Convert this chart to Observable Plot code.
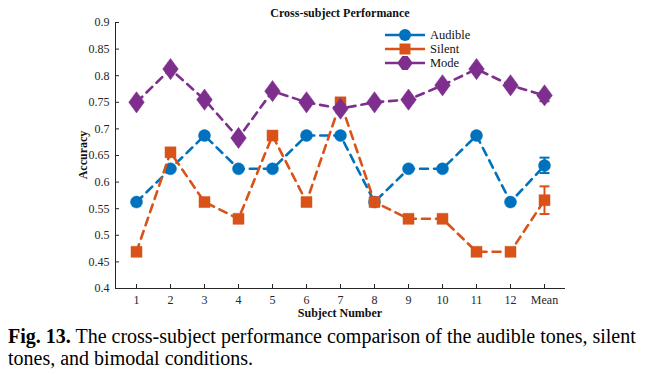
<!DOCTYPE html>
<html><head><meta charset="utf-8">
<script src="https://cdn.jsdelivr.net/npm/d3@7"></script>
<script src="https://cdn.jsdelivr.net/npm/@observablehq/plot@0.6"></script>
<style>
body{margin:0;background:#fff;font-family:"Liberation Serif","Times New Roman",serif;}
svg, svg text{font-family:"Liberation Serif","Times New Roman",serif !important;}
#wrap{position:relative;width:654px;height:375px;overflow:hidden;}
#chart{position:absolute;left:0;top:0;}
.t{position:absolute;white-space:nowrap;color:#111;font-family:"Liberation Serif","Times New Roman",serif;}
#title{left:340px;top:6px;transform:translateX(-50%);font-weight:bold;font-size:12px;}
#xlab{left:340px;top:306px;transform:translateX(-50%);font-weight:bold;font-size:12px;}
#ylab{left:83px;top:155px;transform:translate(-50%,-50%) rotate(-90deg);font-weight:bold;font-size:12px;}
#caption{left:8px;top:325px;font-size:20px;line-height:22px;color:#000;}
#legend{position:absolute;left:384px;top:28px;font-size:12.5px;font-family:"Liberation Serif","Times New Roman",serif;color:#111;}
#legend .row{display:flex;align-items:center;height:14px;}
#legend svg{margin-right:4px;}
</style></head>
<body><div id="wrap">
<div id="chart"></div>
<div id="title" class="t">Cross-subject Performance</div>
<div id="xlab" class="t">Subject Number</div>
<div id="ylab" class="t">Accuracy</div>
<div id="legend"></div>
<div id="caption" class="t"><b>Fig. 13.</b> The cross-subject performance comparison of the audible tones, silent<br>tones, and bimodal conditions.</div>
</div>
<script>
const subjects = ["1","2","3","4","5","6","7","8","9","10","11","12","Mean"];
const audible = [0.5625,0.625,0.6875,0.625,0.625,0.6875,0.6875,0.5625,0.625,0.625,0.6875,0.5625,0.631];
const silent  = [0.469,0.656,0.5625,0.531,0.6875,0.5625,0.75,0.5625,0.531,0.531,0.469,0.469,0.566];
const mode    = [0.75,0.8125,0.755,0.683,0.771,0.75,0.738,0.75,0.755,0.782,0.8125,0.782,0.763];
const meanErr = {Audible:[0.617,0.646], Silent:[0.540,0.592], Mode:[0.752,0.769]};
const seriesNames = ["Audible","Silent","Mode"];
const colors = ["#0072BD","#D95319","#7E2F8E"];
const yTicks = [0.4,0.45,0.5,0.55,0.6,0.65,0.7,0.75,0.8,0.85,0.9];

const sq = {draw(ctx,size){const h=Math.sqrt(size)/2;ctx.moveTo(-h,-h);ctx.lineTo(h,-h);ctx.lineTo(h,h);ctx.lineTo(-h,h);ctx.closePath();}};
const dia = {draw(ctx,size){const w=Math.sqrt(size)*0.55,h=Math.sqrt(size)*0.75;ctx.moveTo(0,-h);ctx.lineTo(w,0);ctx.lineTo(0,h);ctx.lineTo(-w,0);ctx.closePath();}};
const cap = {draw(ctx,size){const w=Math.sqrt(size)/2;ctx.moveTo(-w,0);ctx.lineTo(w,0);}};
const symbols = ["circle", sq, dia];
const radii = [6, 6.2, 8];

const vals = [audible, silent, mode];
const marks = [
  Plot.ruleY([0.4], {stroke:"#262626", strokeWidth:1}),
  Plot.frame({anchor:"left", stroke:"#262626"}),
  Plot.axisY({ticks:yTicks, tickSize:-4, tickPadding:10, tickFormat:d3.format("~g"), label:null, fontSize:12, color:"#262626"}),
  Plot.axisX({tickSize:-4, tickPadding:11, label:null, fontSize:12, color:"#262626"})
];
seriesNames.forEach((name,i)=>{
  const data = subjects.map((s,j)=>({s, v: vals[i][j]}));
  const col = colors[i];
  const e = meanErr[name];
  marks.push(Plot.line(data,{x:"s",y:"v",stroke:col,strokeWidth:2.6,strokeDasharray:"8,6"}));
  marks.push(Plot.ruleX([{s:"Mean",lo:e[0],hi:e[1]}],{x:"s",y1:"lo",y2:"hi",stroke:col,strokeWidth:2}));
  marks.push(Plot.dot([{s:"Mean",v:e[0]},{s:"Mean",v:e[1]}],{x:"s",y:"v",symbol:cap,r:5.6,stroke:col,strokeWidth:2,fill:"none"}));
  marks.push(Plot.dot(data,{x:"s",y:"v",symbol:symbols[i],r:radii[i],fill:col,stroke:col,strokeWidth:0.5}));
});

const chart = Plot.plot({
  width:654, height:318,
  marginLeft:115, marginRight:89, marginTop:22, marginBottom:30,
  x:{type:"point", domain:subjects, padding:0.5},
  y:{domain:[0.4,0.9]},
  style:{fontFamily:"'Liberation Serif', serif", fontSize:"12px", background:"white", color:"#262626"},
  marks
});
document.getElementById("chart").appendChild(chart);

// legend
const lg = d3.select("#legend");
seriesNames.forEach((name,i)=>{
  const row = lg.append("div").attr("class","row");
  const s = row.append("svg").attr("width",42).attr("height",14);
  s.append("line").attr("x1",1).attr("x2",41).attr("y1",7).attr("y2",7).attr("stroke",colors[i]).attr("stroke-width",2.6);
  const sym = i===0 ? d3.symbolCircle : symbols[i];
  s.append("path").attr("transform","translate(21,7)")
    .attr("d", d3.symbol(sym, Math.PI*radii[i]*radii[i])()).attr("fill",colors[i]);
  row.append("span").text(name);
});
</script>
</body></html>
